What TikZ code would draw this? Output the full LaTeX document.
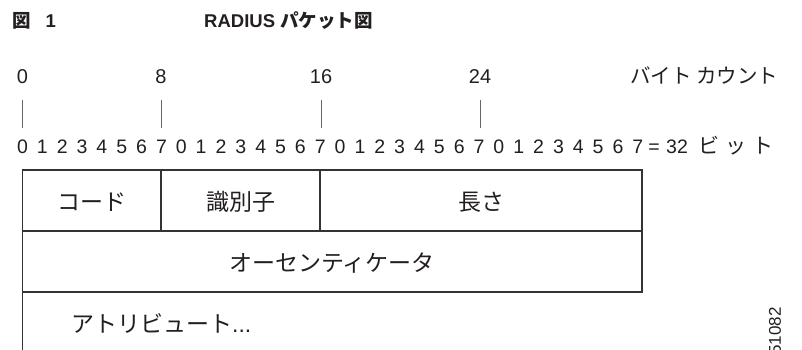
\documentclass[tikz,border=0pt]{standalone}
\usepackage{fontspec}
\setmainfont{Liberation Sans}
\newfontfamily\jp{Noto Sans CJK JP}
\definecolor{ink}{HTML}{231F20}
\definecolor{rule}{HTML}{333333}
\definecolor{tick}{HTML}{666666}
\begin{document}
\begin{tikzpicture}[x=1pt,y=-1pt,
  txt/.style={inner sep=0pt, text=ink, font=\fontsize{20}{20}\selectfont},
  bit/.style={inner sep=0pt, text=ink, anchor=base, font=\fontsize{19.5}{19.5}\selectfont},
  jtxt/.style={inner sep=0pt, text=ink, font=\jp\fontsize{23}{23}\selectfont},
  ttl/.style={inner sep=0pt, text=ink, anchor=base west, font=\bfseries\fontsize{18.5}{18.5}\selectfont},
  boxline/.style={draw=rule, line width=1.1pt},
  tickline/.style={draw=tick, line width=0.9pt}]
\useasboundingbox (0,0) rectangle (802,350);

% title
\node[ttl] (fig) at (12,28) {{\jp 図}\hspace{15pt}1};
\node[ttl] (title) at (204,28) {RADIUS {\jp パケット図}};

% byte counts
\node[txt, anchor=base] (b0) at (22.5,84) {0};
\node[txt, anchor=base] (b8) at (161,84) {8};
\node[txt, anchor=base] (b16) at (321,84) {16};
\node[txt, anchor=base] (b24) at (480,84) {24};
\node[jtxt, anchor=base west, font=\jp\fontsize{20.5}{20.5}\selectfont] (bc) at (630,84) {バイト カウント};

% ticks
\foreach \x/\n in {22.7/t0, 161/t8, 321/t16, 480/t24}{
  \coordinate (\n a) at (\x,100);
  \coordinate (\n b) at (\x,128);
  \draw[tickline] (\n a) -- (\n b);
}

% bit digits
\foreach \i in {0,...,31}{
  \pgfmathtruncatemacro{\d}{mod(\i,8)}
  \node[bit] (bit\i) at ({22.5+19.85*\i},153) {\d};
}
\node[bit] (eq) at (654,153) {=};
\node[bit] (n32) at (677,153) {32};
\node[jtxt, anchor=base west, font=\jp\fontsize{21}{21}\selectfont] (bitw) at (698,153) {ビ\hspace{6pt}ッ\hspace{6pt}ト};

% box
\coordinate (tl) at (22.7,170);
\coordinate (tr) at (642,170);
\coordinate (m1l) at (22.7,231);
\coordinate (m1r) at (642,231);
\coordinate (m2l) at (22.7,292);
\coordinate (m2r) at (642,292);
\coordinate (bl) at (22.7,352);
\coordinate (d1t) at (161,170);
\coordinate (d1b) at (161,231);
\coordinate (d2t) at (320,170);
\coordinate (d2b) at (320,231);
\draw[boxline] (bl) -- (tl) -- (tr) -- (m2r) -- (m2l);
\draw[boxline] (m1l) -- (m1r);
\draw[boxline] (d1t) -- (d1b);
\draw[boxline] (d2t) -- (d2b);

\node[jtxt, anchor=base] (code) at (91.8,210) {コード};
\node[jtxt, anchor=base] (ident) at (240.5,210) {識別子};
\node[jtxt, anchor=base] (len) at (481,210) {長さ};
\node[jtxt, anchor=base] (auth) at (332,271) {オーセンティケータ};
\node[jtxt, anchor=base west] (attr) at (71,332) {アトリビュート\rmfamily...};

% figure id
\node[inner sep=0pt, text=ink, rotate=90, font=\fontsize{17}{17}\selectfont] (fid) at (775,331) {51082};
\end{tikzpicture}
\end{document}
